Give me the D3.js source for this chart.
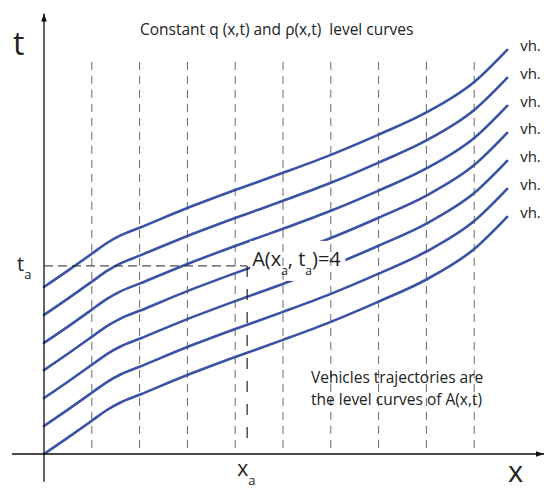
<!DOCTYPE html>
<html>
<head>
<meta charset="utf-8">
<script src="https://cdn.jsdelivr.net/npm/d3@7"></script>
<style>
  body { margin: 0; background: #fff; }
  svg { display: block; font-family: "Open Sans", sans-serif; }
</style>
</head>
<body>
<svg id="chart" width="544" height="491"></svg>
<script>
// vertical dashed lines (x positions)
const gridX = [1, 2, 3, 4, 5, 6, 7, 8, 9];

// shape of the lowest trajectory
const baseX = [0, 0.5, 1, 1.3, 1.6, 2, 3, 4, 5, 6, 7, 8, 9, 9.69];
const baseT = [0, 0.59, 1.20, 1.57, 1.86, 2.14, 2.85, 3.50, 4.12, 4.77, 5.50, 6.30, 7.40, 8.56];

// starting t of each vehicle (bottom to top)
const vehicleStart = [0, 1.01, 2.02, 3.03, 4.01, 5.02, 6.03];
const vehicleLabels = ["vh.", "vh.", "vh.", "vh.", "vh.", "vh.", "vh."];

// point A
const xa = 4.25, ta = 6.79, aValue = 4;

const width = 544, height = 491;
var svg = d3.select("#chart");

var x = d3.scaleLinear().domain([0, 10]).range([44, 522]);
var y = d3.scaleLinear().domain([0, 10]).range([454, 177]);

const blue = "#3a52a3";

var defs = svg.append("defs");

//arrow head marker
defs.append("marker")
	.attr("id", "arrow")
	.attr("viewBox", "0 0 10 10")
	.attr("refX", 10)
	.attr("refY", 5)
	.attr("markerWidth", 8)
	.attr("markerHeight", 8)
	.attr("markerUnits", "userSpaceOnUse")
	.attr("orient", "auto")
	.append("path")
	.attr("d", "M0,1.5 L10,5 L0,8.5 Z")
	.attr("fill", "#111");

//mask so the curves stop under the A label
var mask = defs.append("mask").attr("id", "labelMask").attr("maskUnits", "userSpaceOnUse");
mask.append("rect").attr("x", 0).attr("y", 0).attr("width", width).attr("height", height).attr("fill", "#fff");
var maskHole = mask.append("rect").attr("fill", "#000");

//grid lines
svg.append("g")
	.selectAll("line")
	.data(gridX)
	.enter()
	.append("line")
	.attr("x1", d => x(d))
	.attr("x2", d => x(d))
	.attr("y1", y(0.22))
	.attr("y2", y(14.3))
	.attr("stroke", "#6a6a6a")
	.attr("stroke-width", 1)
	.attr("stroke-dasharray", "8,6");

//trajectories
var line = d3.line()
	.x(d => x(d[0]))
	.y(d => y(d[1]))
	.curve(d3.curveMonotoneX);

svg.append("g")
	.attr("mask", "url(#labelMask)")
	.selectAll("path")
	.data(vehicleStart)
	.enter()
	.append("path")
	.attr("d", k => line(baseX.map((v, i) => [v, baseT[i] + k])))
	.attr("fill", "none")
	.attr("stroke", blue)
	.attr("stroke-width", 2.6)
	.attr("stroke-linecap", "round");

//vh. labels
svg.append("g")
	.selectAll("text")
	.data(vehicleStart)
	.enter()
	.append("text")
	.attr("x", x(baseX[baseX.length - 1]) + 13)
	.attr("y", k => y(baseT[baseT.length - 1] + k) + 1)
	.attr("font-size", 15)
	.attr("fill", "#222")
	.text((d, i) => vehicleLabels[i]);

//axes
svg.append("line")
	.attr("x1", 12).attr("x2", width)
	.attr("y1", y(0)).attr("y2", y(0))
	.attr("stroke", "#111").attr("stroke-width", 1.3)
	.attr("marker-end", "url(#arrow)");

svg.append("line")
	.attr("x1", x(0)).attr("x2", x(0))
	.attr("y1", y(-1.0)).attr("y2", y(15.9))
	.attr("stroke", "#111").attr("stroke-width", 1.3)
	.attr("marker-end", "url(#arrow)");

//dashed guides to A
svg.append("line")
	.attr("x1", x(0)).attr("x2", x(xa))
	.attr("y1", y(ta)).attr("y2", y(ta))
	.attr("stroke", "#222").attr("stroke-width", 1)
	.attr("stroke-dasharray", "9,5");

svg.append("line")
	.attr("x1", x(xa)).attr("x2", x(xa))
	.attr("y1", y(ta)).attr("y2", y(0.42))
	.attr("stroke", "#222").attr("stroke-width", 1.2)
	.attr("stroke-dasharray", "11,12");

//A label
var aText = svg.append("text")
	.attr("x", x(xa) + 5)
	.attr("y", y(ta))
	.attr("font-size", 20)
	.attr("fill", "#222");
aText.append("tspan").text("A(x");
aText.append("tspan").attr("font-size", 12).attr("dy", 9).text("a");
aText.append("tspan").attr("dy", -9).text(", t");
aText.append("tspan").attr("font-size", 12).attr("dy", 9).text("a");
aText.append("tspan").attr("dy", -9).text(")=" + aValue);
var bb = aText.node().getBBox();
maskHole.attr("x", bb.x - 2).attr("y", bb.y - 4)
	.attr("width", bb.width + 6).attr("height", bb.height + 6);

//axis labels
svg.append("text")
	.attr("x", 13).attr("y", 55)
	.attr("font-size", 32)
	.attr("fill", "#222")
	.text("t");

svg.append("text")
	.attr("x", 508).attr("y", 482)
	.attr("font-size", 29)
	.attr("fill", "#222")
	.text("x");

var taText = svg.append("text")
	.attr("x", 17).attr("y", y(ta) + 5)
	.attr("font-size", 20)
	.attr("fill", "#222");
taText.append("tspan").text("t");
taText.append("tspan").attr("font-size", 13).attr("dy", 8).text("a");

var xaText = svg.append("text")
	.attr("x", x(xa) - 10).attr("y", 476)
	.attr("font-size", 21)
	.attr("fill", "#222");
xaText.append("tspan").text("x");
xaText.append("tspan").attr("font-size", 13).attr("dy", 9).text("a");

//title
svg.append("text")
	.attr("x", 140).attr("y", 35)
	.attr("font-size", 15.5)
	.attr("fill", "#222")
	.attr("xml:space", "preserve")
	.text("Constant q (x,t) and \u03c1(x,t)  level curves");

//note
var note = svg.append("text")
	.attr("x", 311).attr("y", 383)
	.attr("font-size", 15.5)
	.attr("fill", "#222");
note.append("tspan").attr("x", 311).text("Vehicles trajectories are");
note.append("tspan").attr("x", 311).attr("dy", 22).text("the level curves of A(x,t)");
</script>
</body>
</html>
